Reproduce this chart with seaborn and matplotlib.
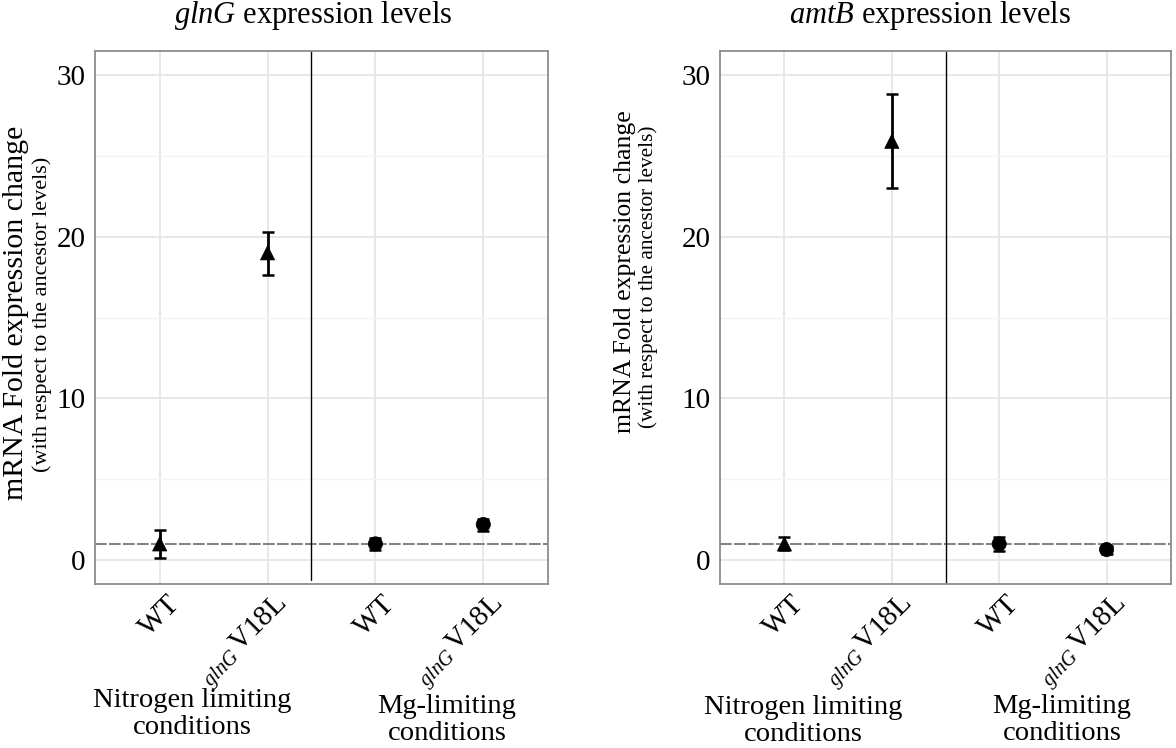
import numpy as np
import pandas as pd
import matplotlib
matplotlib.use("Agg")
import matplotlib.pyplot as plt
import matplotlib.transforms as mtransforms
import seaborn as sns

# ---------------- data ----------------
conditions = ["Nitrogen limiting", "Nitrogen limiting", "Mg-limiting", "Mg-limiting"]
strains = ["WT", "glnG V18L", "WT", "glnG V18L"]
tick_labels = ["WT", r"$_{\mathit{glnG}}\,$V18L", "WT", r"$_{\mathit{glnG}}\,$V18L"]

glnG_mean = [1.0, 19.0, 1.0, 2.2]
glnG_low = [0.15, 17.6, 0.65, 1.8]
glnG_high = [1.85, 20.3, 1.35, 2.55]

amtB_mean = [1.0, 25.9, 1.0, 0.65]
amtB_low = [0.6, 23.0, 0.55, 0.4]
amtB_high = [1.4, 28.8, 1.45, 0.85]

y_ticks = [0, 10, 20, 30]
minor_ticks = [5, 15, 25]

# ---------------- style ----------------
sns.set_theme(style="white")
plt.rcParams["font.family"] = ["Liberation Serif", "DejaVu Serif"]
plt.rcParams["mathtext.fontset"] = "custom"
plt.rcParams["mathtext.rm"] = "Liberation Serif"
plt.rcParams["mathtext.it"] = "Liberation Serif:italic"
plt.rcParams["text.color"] = "black"
plt.rcParams["axes.labelcolor"] = "black"
plt.rcParams["xtick.color"] = "black"
plt.rcParams["ytick.color"] = "black"
plt.rcParams["xtick.labelcolor"] = "black"
plt.rcParams["ytick.labelcolor"] = "black"

fig = plt.figure(figsize=(11.76, 7.48), dpi=100)
ax1 = fig.add_axes([95 / 1176, 1 - 584 / 748, 453 / 1176, 533 / 748])
ax2 = fig.add_axes([720 / 1176, 1 - 584 / 748, 451 / 1176, 533 / 748])

x_pos = [1, 2, 3, 4]
marker_map = {"Nitrogen limiting": "^", "Mg-limiting": "o"}


def draw_panel(ax, mean, low, high, vline_x, vline_ymin):
    df = pd.DataFrame({"x": x_pos, "mean": mean, "low": low, "high": high,
                       "condition": conditions, "strain": strains})
    ax.set_xlim(0.4, 4.6)
    ax.set_ylim(-1.48, 31.48)
    # grid
    ax.set_yticks(y_ticks)
    ax.set_yticks(minor_ticks, minor=True)
    ax.set_xticks(x_pos)
    ax.grid(which="major", color="#E6E6E6", linewidth=1.3, zorder=0)
    ax.grid(which="minor", axis="y", color="#F4F4F4", linewidth=1.0, zorder=0)
    ax.set_axisbelow(True)
    # reference lines
    ax.axhline(1, color="#808080", linewidth=1.4, linestyle=(0, (6, 1.2)), zorder=1)
    ax.axvline(vline_x, ymin=vline_ymin, ymax=1, color="black", linewidth=1.0, zorder=1)
    # error bars
    yerr = np.vstack([df["mean"] - df["low"], df["high"] - df["mean"]])
    ax.errorbar(df["x"], df["mean"], yerr=yerr, fmt="none", ecolor="black",
                elinewidth=2.0, capsize=4.5, capthick=1.8, zorder=3)
    # points
    sns.scatterplot(data=df, x="x", y="mean", style="condition", markers=marker_map,
                    color="black", s=105, edgecolor="black", linewidth=0.5,
                    legend=False, ax=ax, zorder=4)
    ax.set_xlabel("")
    ax.set_ylabel("")
    # spines
    for sp in ax.spines.values():
        sp.set_color("#8C8C8C")
        sp.set_linewidth(1.3)
        sp.set_visible(True)
    ax.tick_params(axis="both", which="major", length=5, width=1.6, color="#222222",
                   direction="out", labelsize=21, pad=2, labelcolor="black")
    ax.tick_params(axis="y", which="minor", length=0)
    ax.set_yticklabels([str(t) for t in y_ticks])
    ax.set_xticklabels(tick_labels, rotation=45, ha="right", va="baseline",
                       rotation_mode="anchor", fontsize=21)
    offset = mtransforms.ScaledTranslation(0.21, -0.11, fig.dpi_scale_trans)
    for lab in ax.get_xticklabels():
        lab.set_transform(lab.get_transform() + offset)


draw_panel(ax1, glnG_mean, glnG_low, glnG_high, 2.4, 0.008)
draw_panel(ax2, amtB_mean, amtB_low, amtB_high, 2.5, 0.0)

# titles
fig.text(313 / 1176, 1 - 15 / 748, r"$\mathit{glnG}$ expression levels",
         ha="center", va="center", fontsize=22)
fig.text(930 / 1176, 1 - 15 / 748, r"$\mathit{amtB}$ expression levels",
         ha="center", va="center", fontsize=22)

# y labels
fig.text(16 / 1176, 1 - 313 / 748, "mRNA Fold expression change", rotation=90,
         ha="center", va="center", fontsize=21.5)
fig.text(42 / 1176, 1 - 314 / 748, "(with respect to the ancestor levels)", rotation=90,
         ha="center", va="center", fontsize=16)
fig.text(625 / 1176, 1 - 272 / 748, "mRNA Fold expression change", rotation=90,
         ha="center", va="center", fontsize=18.5)
fig.text(648 / 1176, 1 - 277 / 748, "(with respect to the ancestor levels)", rotation=90,
         ha="center", va="center", fontsize=15.3)

# condition group labels
group_specs = [
    (192, 714, "Nitrogen limiting\nconditions"),
    (447, 720, "Mg-limiting\nconditions"),
    (803, 721, "Nitrogen limiting\nconditions"),
    (1062, 720, "Mg-limiting\nconditions"),
]
for gx, gy, txt in group_specs:
    fig.text(gx / 1176, 1 - gy / 748, txt, ha="center", va="center",
             fontsize=20.5, linespacing=1.15)

fig.savefig("out.png", dpi=100)
